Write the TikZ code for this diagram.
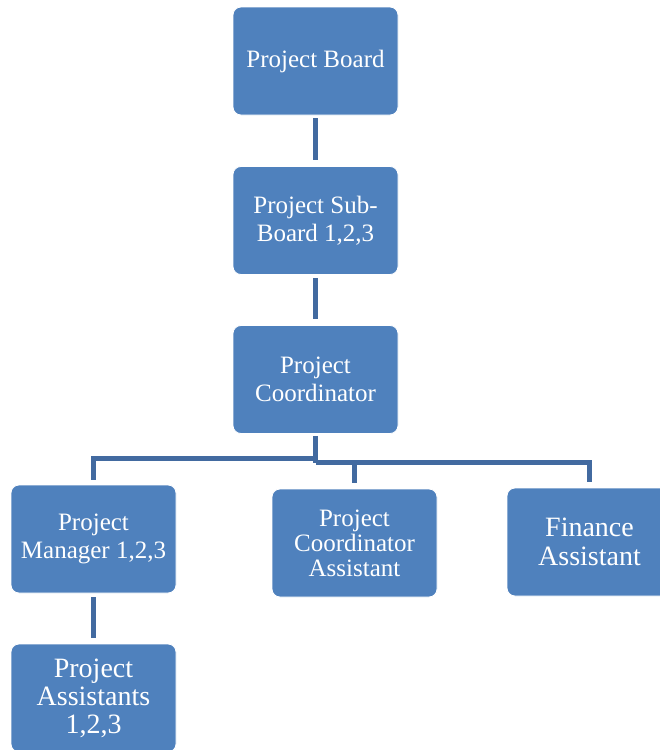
\documentclass[tikz,border=0pt]{standalone}
\usepackage{fontspec}
\setmainfont{Liberation Serif}
\definecolor{boxblue}{HTML}{4F81BD}
\definecolor{lineblue}{RGB}{66,106,160}
\begin{document}
\begin{tikzpicture}[x=1pt,y=-1pt,
  orgbox/.style={rectangle, rounded corners=8pt, fill=boxblue, draw=white, line width=0.8pt,
    minimum width=165pt, minimum height=108pt, text=white, align=center,
    font=\fontsize{25}{28}\selectfont, inner sep=2pt},
  bigtext/.style={font=\fontsize{28}{29}\selectfont},
  link/.style={draw=lineblue, line width=5pt}]
\useasboundingbox (0,0) rectangle (660,750);
\node[orgbox] (board) at (315.5,61) {Project Board};
\node[orgbox] (sub) at (315.5,220.5) {Project Sub-\\Board 1,2,3};
\node[orgbox] (coord) at (315.5,379.5) {Project\\Coordinator};
\node[orgbox] (mgr) at (93.5,539) {Project\\Manager 1,2,3};
\node[orgbox, font=\fontsize{25}{25}\selectfont] (ca) at (354.5,543) {Project\\Coordinator\\Assistant};
\node[orgbox, bigtext] (fin) at (589.5,542) {Finance\\Assistant};
\node[orgbox, bigtext, font=\fontsize{28}{28}\selectfont] (pa) at (93.5,698) {Project\\Assistants\\1,2,3};
\draw[link, shorten <=3pt, shorten >=6pt] (board.south) -- (sub.north);
\draw[link, shorten <=3pt, shorten >=6pt] (sub.south) -- (coord.north);
\draw[link, shorten <=2pt] (coord.south) -- ++(0,29);
\coordinate (jl) at ([yshift=-25pt]coord.south);
\coordinate (jr) at ([yshift=-29pt]coord.south);
\draw[link, shorten >=5pt] (jl) -| (mgr.north);
\draw[link, shorten >=6pt] (jr) -| (ca.north);
\draw[link, shorten >=6pt] (jr) -| (fin.north);
\draw[link, shorten <=4pt, shorten >=6pt] (mgr.south) -- (pa.north);
\end{tikzpicture}
\end{document}
